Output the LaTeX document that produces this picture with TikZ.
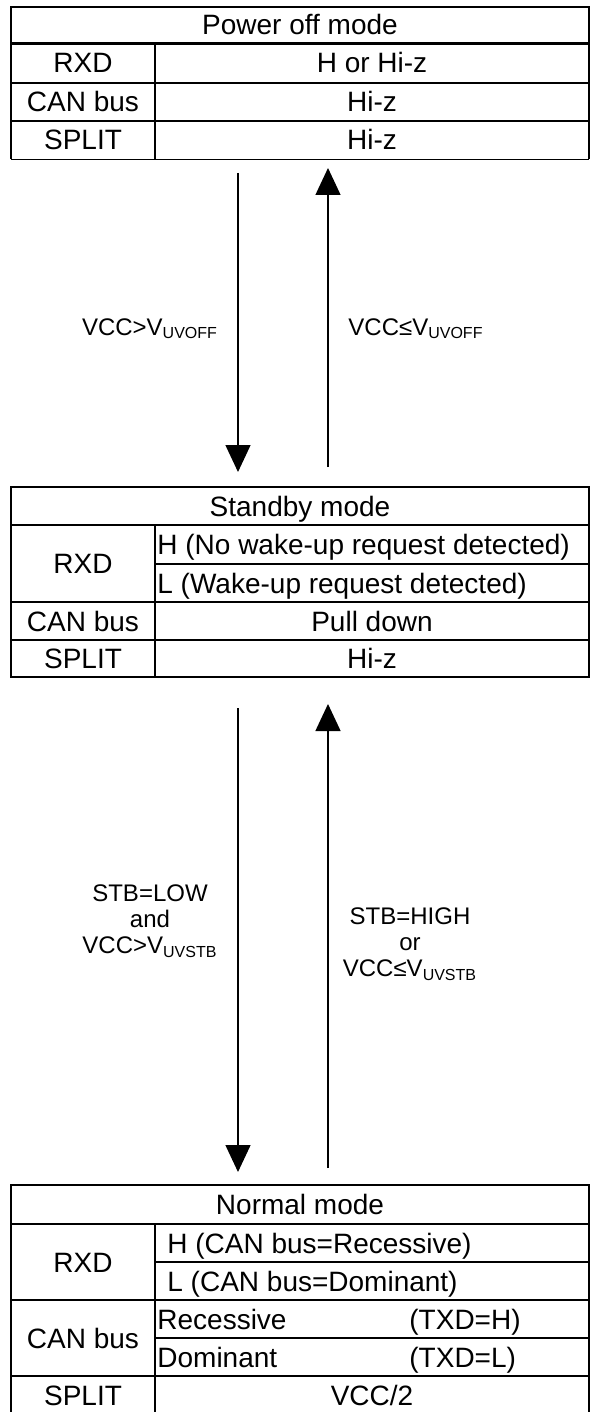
\documentclass[tikz,border=0pt]{standalone}
\usepackage{fontspec}
\setmainfont{Liberation Sans}
\usetikzlibrary{arrows.meta}
\tikzset{
	cell/.style={inner sep=0pt, anchor=base, font=\fontsize{14}{16}\selectfont},
	lcell/.style={cell, anchor=base west},
	cond/.style={inner sep=0pt, align=center, font=\fontsize{12}{13}\selectfont},
	grid/.style={line width=1.1pt},
	trans/.style={line width=0.7pt, -{Triangle[width=12.5pt,length=13.5pt]}}
}
\begin{document}
\begin{tikzpicture}[x=0.5pt,y=-0.5pt]
	\useasboundingbox (0,0) rectangle (590,1412);
	% power off
	\draw[grid] (11,159) -- (11,7) -- (589,7) -- (589,159);
	\draw[line width=0.4pt] (11,159) -- (589,159);
	\draw[grid] (11,43.5) -- (589,43.5);
	\draw[grid] (11,83) -- (589,83);
	\draw[grid] (11,121) -- (589,121);
	\draw[grid] (155,43.5) -- (155,159);
	\node[cell] (offtitle) at (300,35) {Power off mode};
	\node[cell] (offrxd) at (83,73) {RXD};
	\node[cell] (offrxdv) at (372,73) {H or Hi-z};
	\node[cell] (offcan) at (83,112) {CAN bus};
	\node[cell] (offcanv) at (372,112) {Hi-z};
	\node[cell] (offsplit) at (83,150) {SPLIT};
	\node[cell] (offsplitv) at (372,150) {Hi-z};

	% standby
	\draw[grid] (11,487) rectangle (589,677);
	\draw[grid] (11,525) -- (589,525);
	\draw[grid] (155,564) -- (589,564);
	\draw[grid] (11,602) -- (589,602);
	\draw[grid] (11,640) -- (589,640);
	\draw[grid] (155,525) -- (155,677);
	\node[cell] (sbtitle) at (300,516) {Standby mode};
	\node[cell] (sbrxd) at (83,573.5) {RXD};
	\node[lcell] (sbrxdh) at (157,554.5) {H (No wake-up request detected)};
	\node[lcell] (sbrxdl) at (157,593) {L (Wake-up request detected)};
	\node[cell] (sbcan) at (83,631) {CAN bus};
	\node[cell] (sbcanv) at (372,631) {Pull down};
	\node[cell] (sbsplit) at (83,668.5) {SPLIT};
	\node[cell] (sbsplitv) at (372,668.5) {Hi-z};

	% normal
	\draw[grid] (11,1412) -- (11,1185) -- (589,1185) -- (589,1412);
	\draw[grid] (11,1224) -- (589,1224);
	\draw[grid] (155,1262) -- (589,1262);
	\draw[grid] (11,1300) -- (589,1300);
	\draw[grid] (155,1338) -- (589,1338);
	\draw[grid] (11,1376) -- (589,1376);
	\draw[grid] (155,1224) -- (155,1412);
	\node[cell] (nmtitle) at (300,1214.5) {Normal mode};
	\node[cell] (nmrxd) at (83,1272) {RXD};
	\node[lcell] (nmrxdh) at (167,1253) {H (CAN bus=Recessive)};
	\node[lcell] (nmrxdl) at (167,1291) {L (CAN bus=Dominant)};
	\node[cell] (nmcan) at (83,1348) {CAN bus};
	\node[lcell] (nmrec) at (157,1329) {Recessive};
	\node[lcell] (nmrectxd) at (409,1329) {(TXD=H)};
	\node[lcell] (nmdom) at (157,1367) {Dominant};
	\node[lcell] (nmdomtxd) at (409,1367) {(TXD=L)};
	\node[cell] (nmsplit) at (83,1405) {SPLIT};
	\node[cell] (nmsplitv) at (372,1405) {VCC/2};

	% transitions
	\coordinate (offdn) at (238,173);
	\coordinate (sbin) at (238,472);
	\coordinate (sbout) at (328,467);
	\coordinate (offup) at (328,168);
	\draw[trans] (offdn) -- (sbin);
	\draw[trans] (sbout) -- (offup);
	\node[cond, anchor=base] (uvoffon) at (150,335) {VCC>V\textsubscript{UVOFF}};
	\node[cond, anchor=base] (uvoffoff) at (416,335) {VCC≤V\textsubscript{UVOFF}};

	\coordinate (sbdn) at (238,708);
	\coordinate (nmin) at (238,1172);
	\coordinate (nmout) at (328,1168);
	\coordinate (sbup) at (328,704);
	\draw[trans] (sbdn) -- (nmin);
	\draw[trans] (nmout) -- (sbup);
	\node[cond] (tonormal) at (150,921) {STB=LOW\\and\\VCC>V\textsubscript{UVSTB}};
	\node[cond] (tostandby) at (410,944) {STB=HIGH\\or\\VCC≤V\textsubscript{UVSTB}};
\end{tikzpicture}
\end{document}
